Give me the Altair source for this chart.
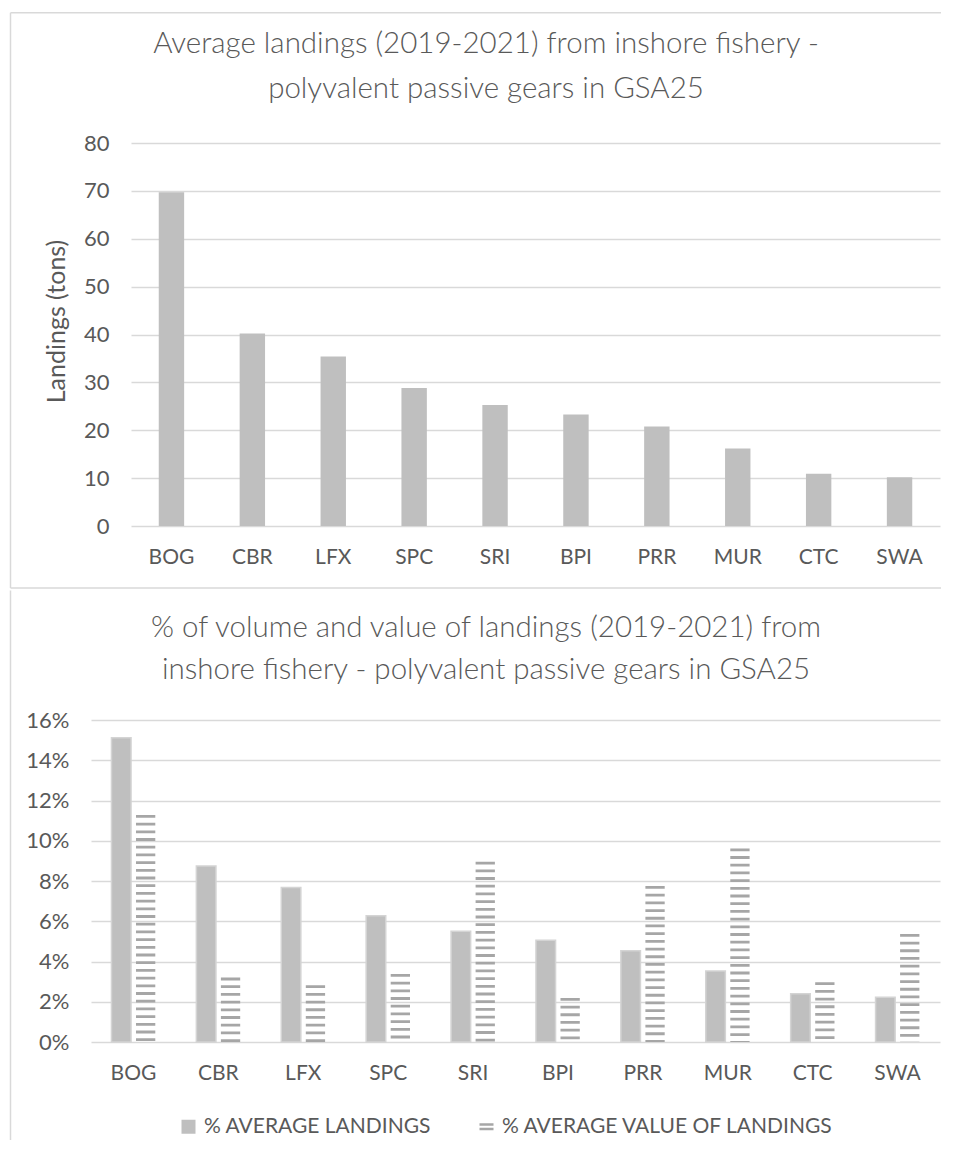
import altair as alt
import pandas as pd

# ---------------- data ----------------
codes = ["BOG", "CBR", "LFX", "SPC", "SRI", "BPI", "PRR", "MUR", "CTC", "SWA"]
landings_tons = [69.7, 40.2, 35.4, 28.8, 25.3, 23.3, 20.8, 16.2, 10.9, 10.2]
pct_landings = [15.12, 8.74, 7.68, 6.27, 5.50, 5.06, 4.53, 3.53, 2.40, 2.22]
pct_value = [11.28, 3.20, 2.82, 3.38, 8.96, 2.19, 7.75, 9.62, 2.97, 5.37]
series_names = ["% AVERAGE LANDINGS", "% AVERAGE VALUE OF LANDINGS"]
top_ticks = [0, 10, 20, 30, 40, 50, 60, 70, 80]
bottom_ticks = [0, 0.02, 0.04, 0.06, 0.08, 0.10, 0.12, 0.14, 0.16]
top_title = ["Average landings (2019-2021) from inshore fishery -",
             "polyvalent passive gears in GSA25"]
bottom_title = ["% of volume and value of landings  (2019-2021) from",
                "inshore fishery - polyvalent passive gears in GSA25"]
top_y_title = "Landings (tons)"

# ---------------- styling ----------------
FONT = "Lato"
TXT = "#595959"
GRID = "#d9d9d9"
SOLID = "#bfbfbf"
STRIPE = "#a6a6a6"
BORDER = "#d9d9d9"

top_df = pd.DataFrame({"code": codes, "tons": landings_tons})
rows = []
for c, a, b in zip(codes, pct_landings, pct_value):
    rows.append({"code": c, "series": series_names[0], "share": a / 100})
    rows.append({"code": c, "series": series_names[1], "share": b / 100})
bot_df = pd.DataFrame(rows)
one = pd.DataFrame({"k": [0]})

W = 849            # both plot areas share origin x; top one is inset by 40 px
INSET = 40


def y_axis(values, fmt=None, title=None, offset=0):
    kw = dict(values=values, grid=True, gridColor=GRID, gridWidth=1.3,
              domain=False, ticks=False, labelPadding=22, labelFont=FONT,
              labelFontSize=22, labelColor=TXT, offset=offset)
    if fmt:
        kw["format"] = fmt
    if title:
        kw.update(title=title, titleFont=FONT, titleFontSize=25,
                  titleFontWeight="normal", titleColor=TXT, titlePadding=14,
                  titleY=178)
    else:
        kw["title"] = None
    return alt.Axis(**kw)


x_axis = alt.Axis(title=None, labelAngle=0, labelPadding=20, ticks=False,
                  domain=False, labelFont=FONT, labelFontSize=21, labelColor=TXT)

border_style = dict(color=BORDER, strokeWidth=1.5)


def text_line(txt, x, y):
    return alt.Chart(one).mark_text(
        text=txt, font=FONT, fontSize=29.5, fontWeight=300, color=TXT,
        align="center", baseline="alphabetic",
    ).encode(x=alt.value(x), y=alt.value(y))


# ---------------- top chart ----------------
TH = 383
bars_top = alt.Chart(top_df).mark_bar(color=SOLID).encode(
    x=alt.X("code:N", sort=codes,
            scale=alt.Scale(range=[INSET, W], paddingInner=0.686, paddingOuter=0.343),
            axis=x_axis),
    y=alt.Y("tons:Q", scale=alt.Scale(domain=[0, 80]),
            axis=y_axis(top_ticks, title=top_y_title, offset=-INSET)),
)
t_top = alt.Chart(one).mark_rule(**border_style).encode(
    x=alt.value(-80.5), x2=alt.value(850), y=alt.value(-130.3))
t_left = alt.Chart(one).mark_rule(**border_style).encode(
    x=alt.value(-80.5), y=alt.value(-130.3), y2=alt.value(445))
t_bottom = alt.Chart(one).mark_rule(**border_style).encode(
    x=alt.value(-80.5), x2=alt.value(850), y=alt.value(445))
t_title1 = text_line(top_title[0], 395, -90)
t_title2 = text_line(top_title[1], 395, -45)

top_chart = alt.layer(bars_top, t_top, t_left, t_bottom, t_title1, t_title2).properties(
    width=W, height=TH)

# ---------------- bottom chart ----------------
BH = 322
xb = alt.X("code:N", sort=codes,
           scale=alt.Scale(paddingInner=0.482, paddingOuter=0.241), axis=x_axis)
xo = alt.XOffset("series:N", sort=series_names,
                 scale=alt.Scale(domain=series_names, paddingInner=0.197, paddingOuter=0))
stripe_path = "M-1,-0.5H1V-0.14H-1Z M-1,0.14H1V0.5H-1Z"

legend = alt.Legend(
    title=None, orient="none", legendX=87, legendY=396,
    direction="horizontal", labelFont=FONT, labelFontSize=21,
    labelColor=TXT, symbolSize=196, symbolStrokeWidth=0, labelLimit=800,
    columnPadding=44, labelOffset=5, padding=0,
)
color_enc = alt.Color("series:N",
                      scale=alt.Scale(domain=series_names, range=[SOLID, STRIPE]),
                      legend=legend)
shape_enc = alt.Shape("series:N",
                      scale=alt.Scale(domain=series_names, range=["square", stripe_path]),
                      legend=legend)

bars_bot = alt.Chart(bot_df).transform_filter(
    alt.datum.series == series_names[0]
).mark_bar(stroke="#d4d4d4", strokeWidth=1.5).encode(
    x=xb, xOffset=xo,
    y=alt.Y("share:Q", scale=alt.Scale(domain=[0, 0.16]),
            axis=y_axis(bottom_ticks, fmt=".0%")),
    color=color_enc,
)
stripes = alt.Chart(bot_df).transform_filter(
    alt.datum.series == series_names[1]
).mark_rule(color=STRIPE, strokeWidth=19.3, strokeDash=[2.8, 4.9], strokeCap="butt").encode(
    x=xb, xOffset=xo,
    y=alt.Y("share:Q"), y2=alt.datum(0),
)
legend_pts = alt.Chart(bot_df).mark_point(filled=True, opacity=0).encode(
    x=xb, xOffset=xo, y=alt.Y("share:Q"), color=color_enc, shape=shape_enc,
)
b_left = alt.Chart(one).mark_rule(**border_style).encode(
    x=alt.value(-80.5), y=alt.value(-129.5), y2=alt.value(420))
b_title1 = text_line(bottom_title[0], 395, -83)
b_title2 = text_line(bottom_title[1], 395, -41)

bottom_chart = alt.layer(bars_bot, stripes, legend_pts, b_left, b_title1, b_title2).properties(
    width=W, height=BH)

chart = alt.concat(top_chart, bottom_chart, columns=1, spacing=0, align="none",
                   bounds="full").resolve_legend(
    color="independent", shape="independent"
).properties(
    padding={"left": 1, "top": 3, "right": 0, "bottom": 0},
    background="white",
).configure_view(strokeWidth=0)

chart.save("out.html", embed_options={"renderer": "svg", "actions": False})
